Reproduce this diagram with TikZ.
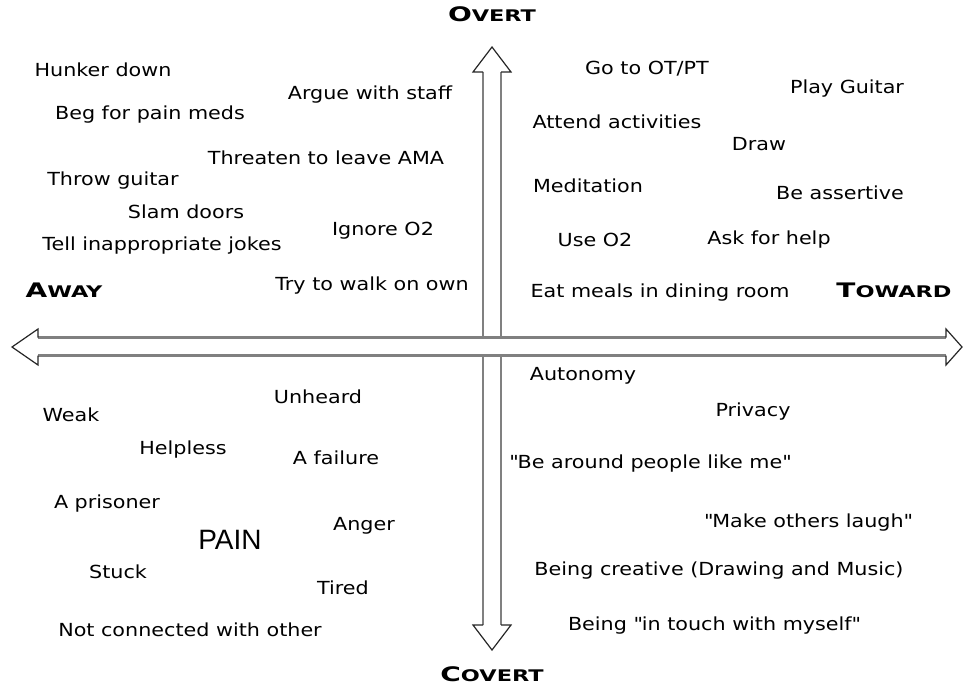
\documentclass[tikz,border=0pt]{standalone}
\usepackage{fontspec}
\setmainfont{Liberation Sans}
\newfontfamily\itemfont{DejaVu Sans}[FakeStretch=1.15]
\newfontfamily\polefont{DejaVu Sans}[FakeStretch=1.4]
\usetikzlibrary{positioning}

\tikzset{
  item/.style={font=\itemfont\fontsize{18}{18}\selectfont, inner sep=0pt},
  pole/.style={font=\polefont\bfseries, inner sep=0pt},
  shaft/.style={draw=gray, line width=2.4pt},
  tip/.style={draw=black!85, line width=1.2pt, line join=miter}
}
\newcommand{\polename}[2]{{\fontsize{20}{20}\selectfont #1}{\fontsize{16}{16}\selectfont #2}}
\newcommand{\dq}{\textquotedbl}

\begin{document}
\begin{tikzpicture}[x=1pt,y=-1pt]
\useasboundingbox (0,0) rectangle (964,689);

% arrow ends and shafts
\coordinate (west) at (12,347);
\coordinate (east) at (962,347);
\coordinate (north) at (492,47);
\coordinate (south) at (492,650);

\draw[shaft] (38,337.5) -- (946,337.5);
\draw[shaft] (38,355.5) -- (946,355.5);
\draw[shaft] (483,72) -- (483,337.5) (501,72) -- (501,337.5);
\draw[shaft] (483,355.5) -- (483,625) (501,355.5) -- (501,625);

\draw[tip] (38,337.5) -- (38,329) -- (west) -- (38,365) -- (38,355.5);
\draw[tip] (946,337.5) -- (946,329) -- (east) -- (946,365) -- (946,355.5);
\draw[tip] (483,72) -- (473,72) -- (north) -- (511,72) -- (501,72);
\draw[tip] (483,625) -- (473,625) -- (south) -- (511,625) -- (501,625);

% poles
\node[pole, above=25pt of north] (overt) {\polename{O}{VERT}};
\node[pole, below=16pt of south] (covert) {\polename{C}{OVERT}};
\node[pole] (away) at (64,290) {\polename{A}{WAY}};
\node[pole] (toward) at (894,290) {\polename{T}{OWARD}};

% away, overt
\foreach \n/\x/\y/\t in {hunker/103/70/{Hunker down}, beg/150/115/{Beg for pain meds},
    argue/370/95/{Argue with staff}, threaten/326/158/{Threaten to leave AMA},
    throw/113/181/{Throw guitar}, slam/186/212/{Slam doors}, ignore/383/231/{Ignore O2},
    jokes/162/246/{Tell inappropriate jokes}, walk/372/286/{Try to walk on own}}
  \node[item] (\n) at (\x,\y) {\t};

% toward, overt
\foreach \n/\x/\y/\t in {otpt/647/69/{Go to OT/PT}, guitar/847/89/{Play Guitar},
    attend/617/122/{Attend activities}, draw/759/144/{Draw}, medit/588/186/{Meditation},
    assert/840/193/{Be assertive}, useo/595/240/{Use O2}, help/769/240/{Ask for help},
    meals/660/293/{Eat meals in dining room}}
  \node[item] (\n) at (\x,\y) {\t};

% toward, covert
\foreach \n/\x/\y/\t in {auto/583/376/{Autonomy}, privacy/753/412/{Privacy},
    around/650/464/{\dq Be around people like me\dq}, laugh/808/523/{\dq Make others laugh\dq},
    creative/719/571/{Being creative (Drawing and Music)},
    touch/714/626/{Being \dq in touch with myself\dq}}
  \node[item] (\n) at (\x,\y) {\t};

% away, covert
\foreach \n/\x/\y/\t in {unheard/318/397/{Unheard}, weak/71/415/{Weak},
    helpless/183/450/{Helpless}, failure/336/458/{A failure}, prisoner/107/504/{A prisoner},
    anger/364/526/{Anger}, stuck/118/572/{Stuck}, tired/343/588/{Tired},
    notconn/190/630/{Not connected with other}}
  \node[item] (\n) at (\x,\y) {\t};

\node[inner sep=0pt, font=\fontsize{28}{28}\selectfont] (pain) at (230,540) {PAIN};

\end{tikzpicture}
\end{document}
